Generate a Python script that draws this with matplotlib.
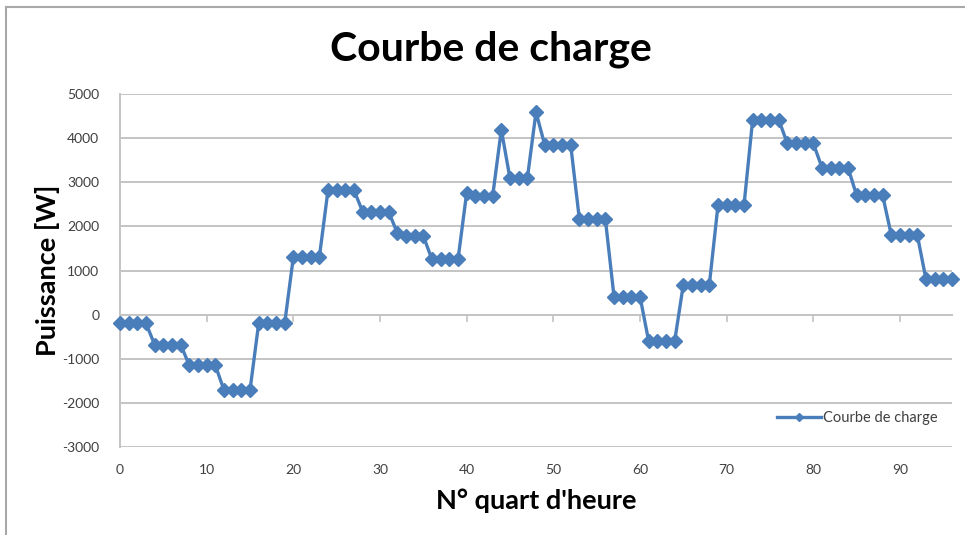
import matplotlib
matplotlib.use("Agg")
import matplotlib.pyplot as plt
from matplotlib.lines import Line2D

# Load curve, one value per quarter hour (W)
quart_heure = list(range(97))
puissance = (
    [-200] * 4 + [-680] * 4 + [-1150] * 4 + [-1710] * 4 + [-200] * 4
    + [1300] * 4 + [2820] * 4 + [2330] * 4 + [1850, 1780, 1780, 1780]
    + [1250] * 4 + [2760, 2690, 2690, 2690] + [4190] + [3085] * 3
    + [4590] + [3850] * 4 + [2170] * 4 + [410] * 4 + [-600] * 4
    + [680] * 4 + [2480] * 4 + [4420] * 4 + [3880] * 4 + [3330] * 4
    + [2700] * 4 + [1800] * 4 + [800] * 4
)

y_ticks = [-3000, -2000, -1000, 0, 1000, 2000, 3000, 4000, 5000]
x_ticks = [0, 10, 20, 30, 40, 50, 60, 70, 80, 90]

titre = "Courbe de charge"
label_x = "N° quart d'heure"
label_y = "Puissance [W]"
serie = "Courbe de charge"

plt.rcParams["font.family"] = ["Lato", "DejaVu Sans"]
plt.rcParams["axes.unicode_minus"] = False

W, H = 965, 535
fig = plt.figure(figsize=(W / 100, H / 100), dpi=100)
fig.patch.set_facecolor("white")

left, right, top, bottom = 120, 952, 94, 447
ax = fig.add_axes([left / W, 1 - bottom / H, (right - left) / W, (bottom - top) / H])

grid_col = "#C4C4C4"
blue = "#4A7EBB"

ax.plot(quart_heure, puissance, color=blue, lw=2.4, marker="D", ms=7,
        markeredgecolor=blue, markerfacecolor=blue, label=serie, zorder=3,
        clip_on=False)

ax.set_xlim(0, 96)
ax.set_ylim(-3000, 5000)
ax.set_yticks(y_ticks)
ax.yaxis.grid(True, color=grid_col, lw=1.4)
ax.set_axisbelow(True)

for s in ("top", "right"):
    ax.spines[s].set_visible(False)
ax.spines["left"].set_color(grid_col)
ax.spines["left"].set_linewidth(1.4)
ax.spines["bottom"].set_position(("data", 0))
ax.spines["bottom"].set_color(grid_col)
ax.spines["bottom"].set_linewidth(1.4)

ax.set_xticks(x_ticks)
ax.tick_params(axis="x", direction="out", length=5, width=1.2, color=grid_col,
               labelbottom=False)
ax.tick_params(axis="y", length=0, pad=15, labelsize=10, labelcolor="#404040")

sec = ax.secondary_xaxis("bottom")
sec.set_xticks(x_ticks)
sec.tick_params(length=0, pad=12, labelsize=10, labelcolor="#404040")
sec.spines["bottom"].set_visible(False)
sec.set_xlabel(label_x, fontsize=19.5, fontweight="bold", labelpad=9)

ax.set_ylabel(label_y, fontsize=19.5, fontweight="bold")
ax.yaxis.set_label_coords(-0.072, 0.5)

fig.text(491 / W, 1 - 49 / H, titre, ha="center", va="center",
         fontsize=29.5, fontweight="bold", color="black")

leg = ax.legend(loc="lower right", bbox_to_anchor=(0.998, 0.025), frameon=False,
                fontsize=10.5, handlelength=3.0, handletextpad=0.1, markerscale=0.6)
for t in leg.get_texts():
    t.set_color("#404040")

# Chart area border
border = "#A8A8A8"
fig.add_artist(Line2D([6 / W, 6 / W], [0, 1 - 7 / H], transform=fig.transFigure,
                      color=border, lw=1.5))
fig.add_artist(Line2D([6 / W, 1], [1 - 7 / H, 1 - 7 / H], transform=fig.transFigure,
                      color=border, lw=1.5))

fig.savefig("out.png", dpi=100, facecolor="white")
